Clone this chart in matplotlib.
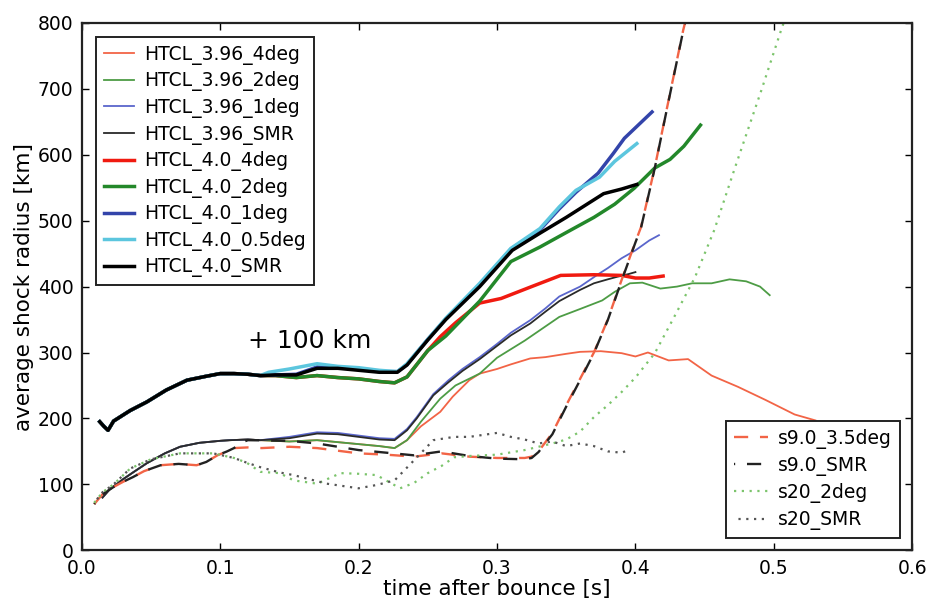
import numpy as np
import matplotlib
matplotlib.use('Agg')
import matplotlib.pyplot as plt

# ---- data (time [s], average shock radius [km]) ----
# HTCL_4.0 runs (shifted +100 km) share the early part
t_up0 = [0.013, 0.016, 0.019, 0.023, 0.0275, 0.035, 0.047, 0.061, 0.076, 0.09, 0.10, 0.11, 0.12, 0.129]
r_up0 = [195, 188, 182, 196, 202, 212, 225, 243, 258, 264, 268, 268, 267, 265]

t_40_smr = [0.14, 0.155, 0.17, 0.185, 0.2, 0.215, 0.228, 0.235, 0.25, 0.263, 0.2875, 0.311, 0.331, 0.35, 0.365, 0.377, 0.39, 0.401]
r_40_smr = [266, 266, 276, 276, 273, 270, 270, 281, 319, 350, 400, 455, 481, 505, 525, 541, 548, 555]

t_40_05 = [0.135, 0.15, 0.17, 0.185, 0.2, 0.215, 0.228, 0.235, 0.25, 0.263, 0.2875, 0.31, 0.331, 0.345, 0.357, 0.374, 0.385, 0.401]
r_40_05 = [270, 275, 283, 279, 277, 273, 271, 283, 320, 352, 405, 458, 488, 521, 546, 566, 590, 617]

t_40_1 = [0.14, 0.155, 0.17, 0.185, 0.2, 0.215, 0.228, 0.235, 0.25, 0.263, 0.2875, 0.31, 0.331, 0.345, 0.357, 0.373, 0.384, 0.392, 0.402, 0.412]
r_40_1 = [266, 267, 278, 277, 275, 271, 271, 282, 320, 351, 403, 457, 486, 518, 543, 572, 602, 625, 645, 665]

t_40_2 = [0.14, 0.155, 0.17, 0.185, 0.2, 0.215, 0.226, 0.235, 0.25, 0.263, 0.2875, 0.31, 0.331, 0.35, 0.37, 0.385, 0.399, 0.414, 0.425, 0.435, 0.447]
r_40_2 = [265, 262, 265, 262, 260, 256, 254, 263, 303, 325, 378, 438, 460, 482, 505, 525, 549, 580, 593, 613, 645]

t_40_4 = [0.14, 0.155, 0.17, 0.185, 0.2, 0.215, 0.226, 0.235, 0.25, 0.259, 0.27, 0.2875, 0.303, 0.325, 0.346, 0.37, 0.39, 0.40, 0.41, 0.42]
r_40_4 = [265, 262, 265, 262, 260, 256, 254, 263, 303, 324, 345, 375, 382, 400, 417, 418, 417, 413, 413, 416]

# HTCL_3.96 runs share the early part
t_lo0 = [0.015, 0.02, 0.025, 0.03, 0.037, 0.047, 0.06, 0.071, 0.085, 0.1, 0.107, 0.12, 0.129]
r_lo0 = [80, 92, 100, 108, 118, 132, 147, 157, 163, 166, 167, 168, 167]

t_396_smr = [0.15, 0.17, 0.185, 0.2, 0.215, 0.226, 0.235, 0.242, 0.254, 0.265, 0.275, 0.2875, 0.30, 0.31, 0.324, 0.335, 0.345, 0.36, 0.37, 0.38, 0.387, 0.395, 0.40]
r_396_smr = [170, 177, 176, 172, 168, 167, 182, 200, 235, 255, 272, 290, 310, 326, 344, 362, 378, 395, 405, 411, 415, 419, 422]

t_396_1 = [0.15, 0.17, 0.185, 0.2, 0.215, 0.226, 0.235, 0.242, 0.254, 0.265, 0.275, 0.2875, 0.30, 0.31, 0.324, 0.335, 0.345, 0.36, 0.374, 0.38, 0.39, 0.40, 0.41, 0.417]
r_396_1 = [172, 179, 178, 174, 170, 169, 184, 202, 237, 258, 275, 293, 313, 330, 349, 367, 385, 400, 420, 428, 443, 455, 470, 478]

t_396_2 = [0.15, 0.17, 0.185, 0.2, 0.215, 0.226, 0.235, 0.245, 0.259, 0.27, 0.2875, 0.30, 0.32, 0.345, 0.36, 0.376, 0.385, 0.396, 0.405, 0.418, 0.43, 0.441, 0.455, 0.468, 0.48, 0.49, 0.497]
r_396_2 = [165, 167, 164, 161, 158, 155, 167, 195, 230, 250, 268, 292, 318, 354, 366, 379, 392, 405, 406, 397, 400, 405, 405, 411, 408, 400, 387]

t_396_4 = [0.15, 0.17, 0.185, 0.2, 0.215, 0.226, 0.235, 0.245, 0.259, 0.268, 0.28, 0.2875, 0.30, 0.31, 0.324, 0.335, 0.35, 0.36, 0.375, 0.39, 0.40, 0.409, 0.424, 0.438, 0.455, 0.474, 0.494, 0.515, 0.53]
r_396_4 = [165, 167, 164, 161, 158, 155, 167, 188, 210, 233, 258, 268, 275, 282, 291, 293, 298, 301, 302, 299, 294, 300, 288, 290, 265, 248, 228, 206, 197]

# s9.0 runs (dashed)
t_s9_0 = [0.009, 0.015, 0.023, 0.03, 0.037, 0.045, 0.057, 0.07, 0.083, 0.09, 0.098, 0.105, 0.11]
r_s9_0 = [70, 85, 96, 104, 111, 120, 129, 131, 129, 134, 144, 150, 155]

t_s9_35 = [0.12, 0.13, 0.15, 0.17, 0.2, 0.22, 0.24, 0.26, 0.28, 0.30, 0.32, 0.325, 0.33, 0.34, 0.35, 0.36, 0.37, 0.38, 0.39, 0.40, 0.404, 0.414, 0.4225, 0.4345, 0.437]
r_s9_35 = [156, 155, 157, 155, 147, 145, 142, 147, 142, 140, 140, 142, 150, 178, 220, 260, 300, 350, 410, 468, 490, 581, 668, 789, 810]

t_s9_smr = [0.115, 0.12, 0.15, 0.17, 0.2, 0.22, 0.24, 0.26, 0.28, 0.30, 0.32, 0.325, 0.33, 0.34, 0.35, 0.36, 0.37, 0.38, 0.39, 0.40, 0.404, 0.414, 0.4225, 0.4345, 0.437]
r_s9_smr = [163, 167, 166, 162, 152, 148, 144, 150, 143, 139, 138, 140, 149, 176, 218, 258, 299, 349, 409, 467, 489, 580, 667, 788, 810]

# s20 runs (dotted)
t_s20_0 = [0.009, 0.015, 0.023, 0.035, 0.05, 0.071, 0.095, 0.11, 0.119]
r_s20_0 = [72, 88, 100, 124, 138, 147, 147, 140, 133]

t_s20_2 = [0.129, 0.143, 0.153, 0.17, 0.187, 0.2, 0.213, 0.23, 0.24, 0.25, 0.26, 0.269, 0.28, 0.30, 0.32, 0.34, 0.35, 0.36, 0.37, 0.38, 0.39, 0.40, 0.414, 0.428, 0.443, 0.457, 0.472, 0.491, 0.506, 0.508]
r_s20_2 = [119, 117, 106, 101, 117, 116, 114, 94, 102, 117, 128, 141, 143, 145, 152, 162, 168, 180, 202, 220, 240, 262, 299, 354, 414, 486, 581, 698, 794, 805]

t_s20_smr = [0.129, 0.143, 0.153, 0.177, 0.2, 0.213, 0.226, 0.238, 0.254, 0.269, 0.28, 0.30, 0.31, 0.32, 0.33, 0.34, 0.35, 0.36, 0.37, 0.38, 0.39, 0.395]
r_s20_smr = [126, 118, 114, 101, 94, 99, 106, 132, 167, 172, 172, 178, 172, 168, 162, 165, 158, 162, 158, 150, 148, 152]


def join(t0, r0, t1, r1):
    return np.array(t0 + t1), np.array(r0 + r1)


fig = plt.figure(figsize=(9.29, 6.04), dpi=100)
ax = fig.add_axes([0.088, 0.089, 0.894, 0.873])

thin = 1.3
thick = 2.5
c_red_thin = '#f26446'
c_grn_thin = '#4d9c45'
c_blu_thin = '#5a66cc'

lines1 = []
lines1 += ax.plot(*join(t_lo0, r_lo0, t_396_4, r_396_4), color=c_red_thin, lw=thin, label='HTCL_3.96_4deg')
lines1 += ax.plot(*join(t_lo0, r_lo0, t_396_2, r_396_2), color=c_grn_thin, lw=thin, label='HTCL_3.96_2deg')
lines1 += ax.plot(*join(t_lo0, r_lo0, t_396_1, r_396_1), color=c_blu_thin, lw=thin, label='HTCL_3.96_1deg')
lines1 += ax.plot(*join(t_lo0, r_lo0, t_396_smr, r_396_smr), color='#2a2a2a', lw=thin, label='HTCL_3.96_SMR')
lines1 += ax.plot(*join(t_up0, r_up0, t_40_4, r_40_4), color='#f01a10', lw=thick, label='HTCL_4.0_4deg')
lines1 += ax.plot(*join(t_up0, r_up0, t_40_2, r_40_2), color='#23882a', lw=thick, label='HTCL_4.0_2deg')
lines1 += ax.plot(*join(t_up0, r_up0, t_40_1, r_40_1), color='#3344aa', lw=thick, label='HTCL_4.0_1deg')
lines1 += ax.plot(*join(t_up0, r_up0, t_40_05, r_40_05), color='#5cc6de', lw=thick, label='HTCL_4.0_0.5deg')
lines1 += ax.plot(*join(t_up0, r_up0, t_40_smr, r_40_smr), color='black', lw=thick, label='HTCL_4.0_SMR')

lines2 = []
lines2 += ax.plot(*join(t_s9_0, r_s9_0, t_s9_35, r_s9_35), color=c_red_thin, lw=1.7, ls=(0, (6, 5)), label='s9.0_3.5deg')
lines2 += ax.plot(*join(t_s9_0, r_s9_0, t_s9_smr, r_s9_smr), color='#222222', lw=1.7, ls=(5.5, (6, 5)), label='s9.0_SMR')
lines2 += ax.plot(*join(t_s20_0, r_s20_0, t_s20_2, r_s20_2), color='#7cc46c', lw=1.6, ls=(0, (1, 2.5)), label='s20_2deg')
lines2 += ax.plot(*join(t_s20_0, r_s20_0, t_s20_smr, r_s20_smr), color='#555555', lw=1.6, ls=(1.5, (1, 2.5)), label='s20_SMR')

ax.text(0.12, 317, '+ 100 km', fontsize=18, va='center', ha='left')

ax.set_xlim(0, 0.6)
ax.set_ylim(0, 800)
ax.set_xticks(np.arange(0, 0.61, 0.1))
ax.set_xticklabels(['0.0', '0.1', '0.2', '0.3', '0.4', '0.5', '0.6'])
ax.set_yticks(np.arange(0, 801, 100))
ax.tick_params(direction='in', top=True, right=True, labelsize=13.5, length=5, width=1, pad=6)
for s in ax.spines.values():
    s.set_linewidth(1.6)
    s.set_color('#222222')
ax.set_xlabel('time after bounce [s]', fontsize=15.5, labelpad=1)
ax.set_ylabel('average shock radius [km]', fontsize=15.5, labelpad=3)

leg1 = ax.legend(handles=lines1, loc='upper left', fontsize=13.5, frameon=True, fancybox=False,
                 edgecolor='#222222', framealpha=1, handlelength=1.6, handletextpad=0.55,
                 labelspacing=0.35, borderaxespad=0.75, borderpad=0.42)
leg1.get_frame().set_linewidth(1.4)
ax.add_artist(leg1)
leg2 = ax.legend(handles=lines2, loc='lower right', fontsize=13.5, frameon=True, fancybox=False,
                 edgecolor='#222222', framealpha=1, handlelength=1.8, handletextpad=0.55,
                 labelspacing=0.38, borderaxespad=0.65, borderpad=0.42)
leg2.get_frame().set_linewidth(1.4)

fig.savefig('out.png', dpi=100)
